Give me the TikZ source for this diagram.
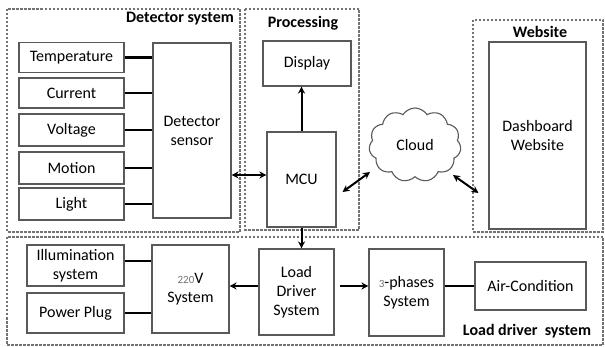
\documentclass[tikz,border=0pt]{standalone}
\usepackage{fontspec}
\setmainfont{Carlito}
\usetikzlibrary{shapes.symbols,arrows.meta}
\begin{document}
\begin{tikzpicture}[x=1pt,y=-1pt,
  box/.style={draw=black!65,line width=1.1pt,fill=white,inner sep=0pt,align=center,font=\fontsize{16}{19}\selectfont},
  grp/.style={draw=black!55,line width=1.1pt,dash pattern=on 2.5pt off 1.5pt},
  glabel/.style={font=\bfseries\fontsize{16}{19}\selectfont,inner sep=0pt},
  wire/.style={line width=2.4pt},
  arr/.style={line width=2pt,-{Stealth[length=7pt,width=7pt]}},
  darr/.style={line width=2pt,{Stealth[length=7pt,width=7pt]}-{Stealth[length=7pt,width=7pt]}}
]
\useasboundingbox[fill=white] (0,0) rectangle (605,347);
% groups
\draw[grp] (7,9) rectangle (240,232);
\draw[grp] (245,9) rectangle (359,230);
\draw[grp] (473,20) rectangle (603,232);
\draw[grp] (7,237) rectangle (603,345);
\node[glabel] (lbldet) at (180,19) {Detector system};
\node[glabel] (lblproc) at (303,23) {Processing};
\node[glabel] (lblweb) at (540,32) {Website};
\node[glabel] (lblload) at (527,331) {Load driver\ \ system};
% detector
\node[box,minimum width=105pt,minimum height=30pt] (temp) at (71.5,57.5) {Temperature};
\node[box,minimum width=105pt,minimum height=30pt] (curr) at (71.5,93) {Current};
\node[box,minimum width=105pt,minimum height=32pt] (volt) at (71.5,130) {Voltage};
\node[box,minimum width=105pt,minimum height=32pt] (moti) at (71.5,168) {Motion};
\node[box,minimum width=105pt,minimum height=32pt] (ligh) at (71.5,204) {Light};
\node[box,minimum width=78pt,minimum height=175pt] (sens) at (192,130.5) {Detector\\sensor};
% processing
\node[box,minimum width=88pt,minimum height=45pt] (disp) at (307,63.5) {Display};
\node[box,minimum width=69pt,minimum height=95pt] (mcu) at (301.5,179.5) {MCU};
% cloud and website
\node[cloud,draw=black!65,line width=1.1pt,cloud puffs=11,cloud puff arc=115,aspect=1.25,minimum width=92pt,minimum height=74pt,inner sep=0pt,font=\fontsize{16}{19}\selectfont] (cloud) at (415,145) {Cloud};
\node[box,minimum width=97pt,minimum height=187pt] (dash) at (537.5,135.5) {Dashboard\\Website};
% load driver
\node[box,minimum width=97pt,minimum height=41pt] (illu) at (75.5,265.5) {Illumination\\system};
\node[box,minimum width=97pt,minimum height=40pt] (plug) at (75.5,313) {Power Plug};
\node[box,minimum width=77pt,minimum height=88pt] (v220) at (190.5,289) {{\fontsize{11}{12}\selectfont\color{black!55}220}V\\System};
\node[box,minimum width=75pt,minimum height=86pt] (load) at (296.5,292) {Load\\Driver\\System};
\node[box,minimum width=75pt,minimum height=87pt] (thre) at (406.5,292.5) {{\fontsize{11}{12}\selectfont\color{black!55}3}-phases\\System};
\node[box,minimum width=111pt,minimum height=48pt] (air) at (530.5,286) {Air-Condition};
% wires
\foreach \n in {temp,curr,volt,moti,ligh}
  \draw[wire] (\n.east) -- (sens.west |- \n.east);
\draw[wire] ([yshift=4.5pt]illu.east) -- ([yshift=4.5pt]illu.east -| v220.west);
\draw[wire] (plug.east) -- (v220.west |- plug.east);
\draw[wire] (air.west) -- (thre.east |- air.west);
% arrows
\draw[darr] ([yshift=4.5pt]mcu.west -| sens.east) -- ([yshift=4.5pt]mcu.west);
\draw[arr] (mcu.north) -- (mcu.north |- disp.south);
\draw[arr] (mcu.south) -- (mcu.south |- load.north);
\draw[darr] ([shift={(6,12.5)}]mcu.east) -- ([shift={(-45,27)}]cloud.center);
\draw[darr] ([shift={(38,30)}]cloud.center) -- ([shift={(-10,57.5)}]dash.west);
\draw[arr] ([yshift=6pt]load.west) -- ([yshift=6pt]load.west -| v220.east);
\draw[arr] ([shift={(5,-6)}]load.east) -- ([yshift=6pt]load.east -| thre.west);
\end{tikzpicture}
\end{document}
